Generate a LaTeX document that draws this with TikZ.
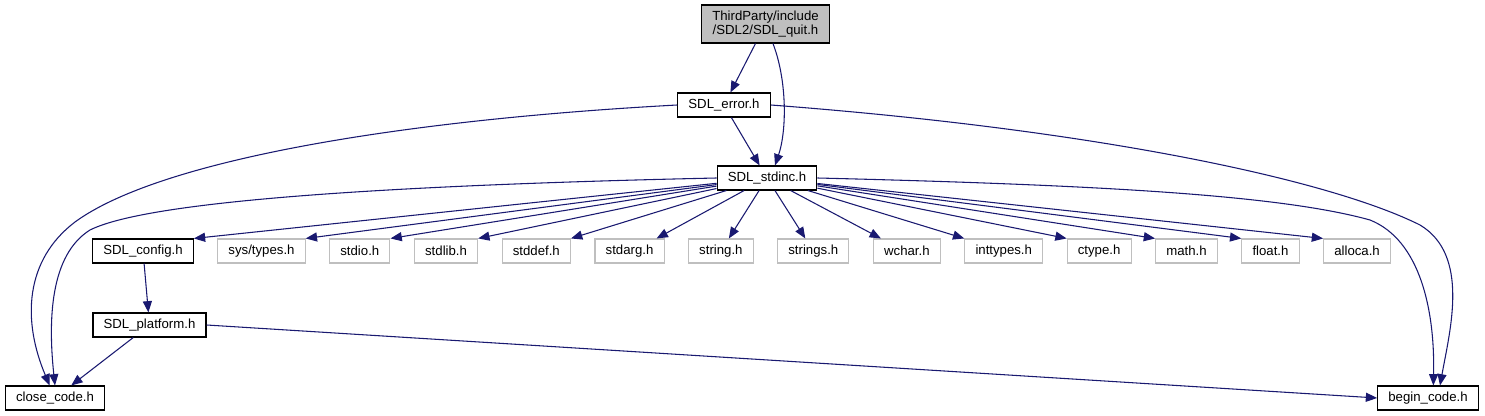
\documentclass[tikz,border=0pt]{standalone}
\usepackage{fontspec}
\setmainfont{Liberation Sans}
\usetikzlibrary{arrows.meta, positioning}

\definecolor{edgeblue}{HTML}{191970}
\definecolor{boxgray}{HTML}{BFBFBF}

\tikzset{
  file/.style={draw=black, line width=0.8pt, rectangle, minimum height=18pt,
    inner xsep=8pt, inner ysep=2pt, font=\fontsize{9.9}{11}\selectfont},
  sysfile/.style={file, draw=boxgray},
  edge/.style={draw=edgeblue, line width=0.8pt,
    -{Triangle[length=8.5pt, width=6.8pt]}}
}

\begin{document}
\begin{tikzpicture}[x=0.75pt, y=-0.75pt, node distance=17.6pt]
\useasboundingbox (0,0) rectangle (1485,416);

\node[file, fill=boxgray, align=center, minimum height=28.5pt] (quit) at (765.5,24)
  {ThirdParty/include\\/SDL2/SDL\_quit.h};
\node[file] (error) at (724,105) {SDL\_error.h};
\node[file] (stdinc) at (767,178) {SDL\_stdinc.h};

% row of headers pulled in by SDL_stdinc.h
\node[file] (config) at (143,251) {SDL\_config.h};
\node[sysfile, right = of config] (systypes) {sys/types.h};
\node[sysfile, right = of systypes] (stdio) {stdio.h};
\node[sysfile, right = of stdio] (stdlib) {stdlib.h};
\node[sysfile, right = of stdlib] (stddef) {stddef.h};
\node[sysfile, right = of stddef] (stdarg) {stdarg.h};
\node[sysfile, right = of stdarg] (string) {string.h};
\node[sysfile, right = of string] (strings) {strings.h};
\node[sysfile, right = of strings] (wchar) {wchar.h};
\node[sysfile, right = of wchar] (inttypes) {inttypes.h};
\node[sysfile, right = of inttypes] (ctype) {ctype.h};
\node[sysfile, right = of ctype] (math) {math.h};
\node[sysfile, right = of math] (float) {float.h};
\node[sysfile, right = of float] (alloca) {alloca.h};

\node[file] (platform) at (149.5,325) {SDL\_platform.h};
\node[file] (close) at (55,398) {close\_code.h};
\node[file] (begin) at (1428,398) {begin\_code.h};

\draw[edge] (quit) -- (error);
\draw[edge] ([xshift=5.6pt]quit.south) .. controls (787,80) and (787,130)
  .. ([xshift=6pt]stdinc.north);
\draw[edge] (error) -- (stdinc);

\draw[edge] (error.west) .. controls (400,120) and (160,160) .. (75,222)
  .. controls (25,260) and (22,320) .. ([xshift=-4pt]close.north);
\draw[edge] (error.east) .. controls (1100,130) and (1330,180) .. (1420,225)
  .. controls (1470,255) and (1450,330) .. ([xshift=9pt]begin.north);

\draw[edge] (stdinc.west) .. controls (400,185) and (150,200) .. (90,230)
  .. controls (50,255) and (48,320) .. ([xshift=0pt]close.north);
\draw[edge] (stdinc.east) .. controls (1100,185) and (1280,195) .. (1370,220)
  .. controls (1420,240) and (1435,310) .. ([xshift=4pt]begin.north);

\draw[edge] (stdinc) -- (config.north east);
\draw[edge] (stdinc) -- (systypes.north east);
\draw[edge] (stdinc) -- (stdio.north east);
\draw[edge] (stdinc) -- (stdlib.north east);
\draw[edge] (stdinc) -- (stddef.north east);
\draw[edge] (stdinc) -- ([xshift=-6pt]stdarg.north east);
\draw[edge] (stdinc) -- ([xshift=6pt]string.north);
\draw[edge] (stdinc) -- ([xshift=-6pt]strings.north);
\draw[edge] (stdinc) -- ([xshift=6pt]wchar.north west);
\draw[edge] (stdinc) -- (inttypes.north west);
\draw[edge] (stdinc) -- (ctype.north west);
\draw[edge] (stdinc) -- (math.north west);
\draw[edge] (stdinc) -- (float.north west);
\draw[edge] (stdinc) -- (alloca.north west);

\draw[edge] (config) -- (platform);
\draw[edge] (platform) -- (close);
\draw[edge] (platform.east) -- (begin.west);

\end{tikzpicture}
\end{document}
